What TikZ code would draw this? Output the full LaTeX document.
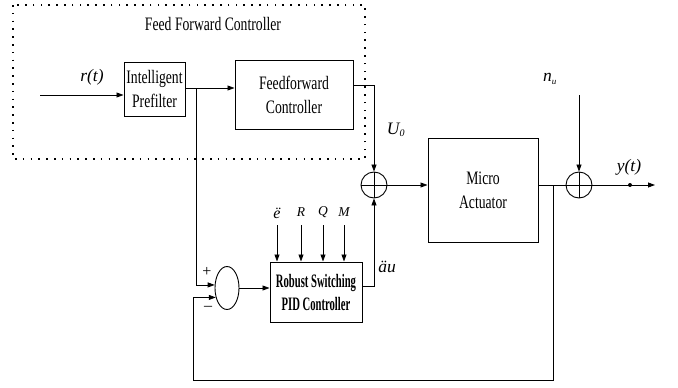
\documentclass[tikz,border=0pt]{standalone}
\usepackage{fontspec}
\setmainfont{Liberation Serif}
\usetikzlibrary{arrows.meta,shapes.geometric}
\newcommand\sqz[1]{\scalebox{0.72}[1]{#1}}
\newcommand\sqb[1]{\scalebox{0.56}[1]{#1}}
\begin{document}
\begin{tikzpicture}[x=1pt,y=-1pt,
  ln/.style={line width=0.8pt},
  arr/.style={ln,-{Triangle[length=7pt,width=5pt]}},
  blk/.style={draw,line width=1pt,inner sep=0pt,align=center,
     font=\fontsize{19}{24}\selectfont},
  sumc/.style={draw,circle,line width=0.9pt,minimum size=26pt,inner sep=0pt},
  lbl/.style={inner sep=1pt,font=\fontsize{17.5}{20}\selectfont\itshape},
  sml/.style={inner sep=1pt,font=\fontsize{13.5}{15}\selectfont\itshape}]
\useasboundingbox (0,0) rectangle (678,388);
% dotted frame
\draw[line width=1.6pt,dash pattern=on 1.6pt off 6.2pt] (13,5) rectangle (365,159);
\node[inner sep=0pt,font=\fontsize{19}{24}\selectfont] (title) at (213,24) {\sqz{Feed Forward Controller}};
% blocks
\node[blk,minimum width=61pt,minimum height=54pt] (pre) at (154.5,89) {\sqz{Intelligent}\\\sqz{Prefilter}};
\node[blk,minimum width=118pt,minimum height=69pt] (ff) at (294,94.5) {\sqz{Feedforward}\\\sqz{Controller}};
\node[blk,minimum width=110pt,minimum height=104pt] (ma) at (483,190) {\sqz{Micro}\\\sqz{Actuator}};
\node[blk,minimum width=92pt,minimum height=60pt,font=\fontsize{19}{23}\selectfont\bfseries] (pid) at (316,292) {\sqb{Robust Switching}\\\sqb{PID Controller}};
% summing junctions
\node[sumc] (s1) at (374,185) {};
\draw[ln] (s1.north) -- (s1.south) (s1.west) -- (s1.east);
\node[sumc] (s2) at (579,185) {};
\draw[ln] (s2.north) -- (s2.south) (s2.west) -- (s2.east);
\node[draw,ellipse,line width=0.9pt,minimum width=24pt,minimum height=43pt,inner sep=0pt] (s3) at (227,288) {};
% coordinates
\coordinate (in) at (40,95);
\coordinate (b1) at (196,88);
\coordinate (c1) at (374,85);
\coordinate (c2) at (374,286);
\coordinate (nu) at (579,95);
\coordinate (b2) at (553,185);
\coordinate (fbc) at (193,380);
\coordinate (out) at (655,185);
\coordinate (yd) at (630,185);
% connectors
\draw[arr] (in) -- (in -| pre.west);
\draw[ln] (pre.east |- b1) -- (b1);
\draw[arr] (b1) -- (b1 -| ff.west);
\draw[arr] (ff.east |- c1) -- (c1) -- (s1.north);
\draw[arr] (pid.east |- c2) -- (c2) -- (s1.south);
\draw[arr] (s1.east) -- (s1 -| ma.west);
\draw[ln] (ma.east |- s2) -- (s2.west);
\draw[arr] (nu) -- (s2.north);
\draw[arr] (s2.east) -- (out);
\fill (yd) circle (2pt);
\draw[ln] (b2) -- (b2 |- fbc) -- (fbc) -- (fbc |- s3.220);
\draw[arr] (fbc |- s3.220) -- (s3.220);
\draw[ln] (b1) -- (b1 |- s3.166);
\draw[arr] (b1 |- s3.166) -- (s3.166);
\draw[arr] (s3.east) -- (s3 -| pid.west);
% labels
\node[lbl] (rt) at (92,77) {r(t)};
\node[lbl] (u0) at (396,130) {U\textsubscript{\fontsize{10}{10}\selectfont 0}};
\node[lbl] (yt) at (629,167) {y(t)};
\node[lbl] (nul) at (550,79) {n\textsubscript{\fontsize{9}{9}\selectfont u}};
\node[lbl] (du) at (387,267) {äu};
\node[inner sep=0pt,font=\fontsize{16}{16}\selectfont] (plus) at (207,272) {+};
\node[inner sep=0pt,font=\fontsize{16}{16}\selectfont] (minus) at (208,308) {\textendash};
% PID inputs
\node[sml,font=\fontsize{16}{16}\selectfont\itshape] (e2) at (277,213) {ë};
\node[sml] (rr) at (301,212) {R};
\node[sml] (qq) at (323,212) {Q};
\node[sml] (mm) at (344,212) {M};
\foreach \n in {e2,rr,qq,mm}{
  \draw[arr] (\n.south |- 0,225) -- (\n.south |- pid.north);
}
\end{tikzpicture}
\end{document}
